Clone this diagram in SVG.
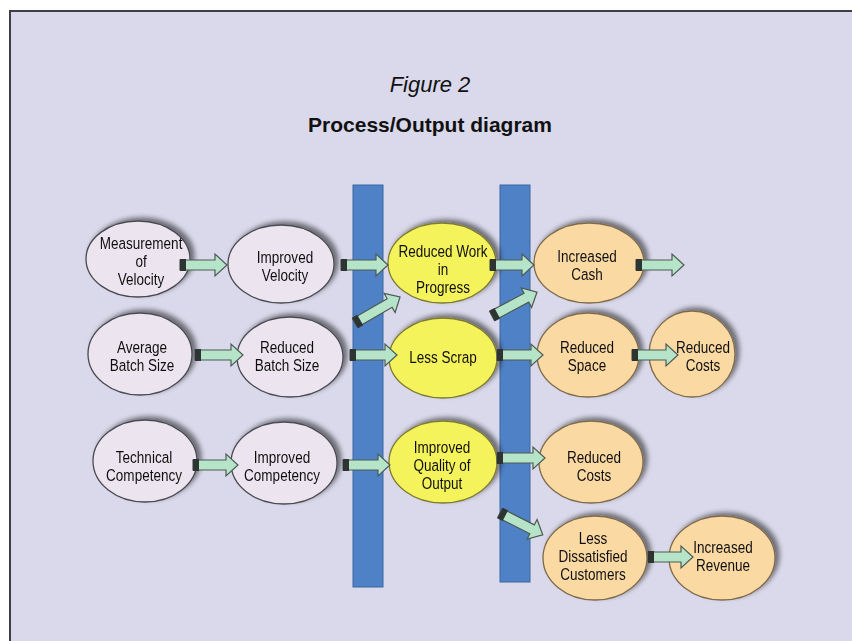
<svg xmlns="http://www.w3.org/2000/svg" width="852" height="641" viewBox="0 0 852 641">
<style>
.t{font-family:"Liberation Sans",Arial,sans-serif;font-size:16.5px;fill:#111;text-anchor:middle;transform-box:fill-box;transform-origin:center;transform:scaleX(0.82)}
.g{fill:#ece4ef;stroke:#4a4a52;stroke-width:1.3}
.y{fill:#f5f35c;stroke:#7d7a30;stroke-width:1.3}
.o{fill:#fad9a3;stroke:#7e6a4c;stroke-width:1.3}
.bar{fill:#4f81c6;stroke:#3d679f;stroke-width:1}
.ar{fill:#b6e4c9;stroke:#4d5a55;stroke-width:1.2}
.cap{fill:#2e3432}
</style>
<defs>
<filter id="sh" x="-20%" y="-25%" width="140%" height="150%">
<feGaussianBlur in="SourceAlpha" stdDeviation="2.5" result="b"/>
<feOffset in="b" dx="4" dy="-3" result="o"/>
<feComponentTransfer in="o" result="s"><feFuncA type="linear" slope="0.5"/></feComponentTransfer>
<feMerge><feMergeNode in="s"/><feMergeNode in="SourceGraphic"/></feMerge>
</filter>
</defs>
<rect x="0" y="0" width="852" height="641" fill="#ffffff"/>
<rect x="10" y="11" width="860" height="660" fill="#d9d9eb" stroke="#3e3e46" stroke-width="2"/>
<text x="430" y="92" font-family="Liberation Sans, Arial, sans-serif" font-size="22" font-style="italic" text-anchor="middle" fill="#111">Figure 2</text>
<text x="430" y="132" font-family="Liberation Sans, Arial, sans-serif" font-size="21" font-weight="bold" text-anchor="middle" fill="#111">Process/Output diagram</text>
<g id="bars">
<rect class="bar" x="353" y="185" width="30" height="402"/>
<rect class="bar" x="500" y="185" width="30" height="397"/>
</g>
<g id="n-measurement" filter="url(#sh)"><ellipse class="g" cx="138" cy="259" rx="52" ry="38"/><text class="t" x="141" y="249">Measurement</text><text class="t" x="141" y="267">of</text><text class="t" x="141" y="285">Velocity</text></g>
<g id="n-improved-velocity" filter="url(#sh)"><ellipse class="g" cx="281" cy="264" rx="53" ry="39"/><text class="t" x="285" y="263">Improved</text><text class="t" x="285" y="281">Velocity</text></g>
<g id="n-average-batch" filter="url(#sh)"><ellipse class="g" cx="140" cy="354" rx="52" ry="41"/><text class="t" x="142" y="353">Average</text><text class="t" x="142" y="371">Batch Size</text></g>
<g id="n-reduced-batch" filter="url(#sh)"><ellipse class="g" cx="290" cy="357" rx="53" ry="40"/><text class="t" x="287" y="353">Reduced</text><text class="t" x="287" y="371">Batch Size</text></g>
<g id="n-technical" filter="url(#sh)"><ellipse class="g" cx="145" cy="461" rx="52" ry="41"/><text class="t" x="144" y="463">Technical</text><text class="t" x="144" y="481">Competency</text></g>
<g id="n-improved-competency" filter="url(#sh)"><ellipse class="g" cx="284" cy="463" rx="53" ry="41"/><text class="t" x="282" y="463">Improved</text><text class="t" x="282" y="481">Competency</text></g>
<g id="n-wip" filter="url(#sh)"><ellipse class="y" cx="442" cy="263" rx="54" ry="40"/><text class="t" x="443" y="257">Reduced Work</text><text class="t" x="443" y="275">in</text><text class="t" x="443" y="293">Progress</text></g>
<g id="n-less-scrap" filter="url(#sh)"><ellipse class="y" cx="443" cy="358" rx="54" ry="40"/><text class="t" x="443" y="363">Less Scrap</text></g>
<g id="n-quality" filter="url(#sh)"><ellipse class="y" cx="443" cy="462" rx="54" ry="41"/><text class="t" x="442" y="453">Improved</text><text class="t" x="442" y="471">Quality of</text><text class="t" x="442" y="489">Output</text></g>
<g id="n-cash" filter="url(#sh)"><ellipse class="o" cx="589" cy="263" rx="55" ry="40"/><text class="t" x="587" y="262">Increased</text><text class="t" x="587" y="280">Cash</text></g>
<g id="n-space" filter="url(#sh)"><ellipse class="o" cx="588" cy="355" rx="51" ry="42"/><text class="t" x="587" y="353">Reduced</text><text class="t" x="587" y="371">Space</text></g>
<g id="n-costs1" filter="url(#sh)"><ellipse class="o" cx="692" cy="354" rx="43" ry="43"/><text class="t" x="703" y="353">Reduced</text><text class="t" x="703" y="371">Costs</text></g>
<g id="n-costs2" filter="url(#sh)"><ellipse class="o" cx="591" cy="462" rx="52" ry="41"/><text class="t" x="594" y="463">Reduced</text><text class="t" x="594" y="481">Costs</text></g>
<g id="n-dissatisfied" filter="url(#sh)"><ellipse class="o" cx="595" cy="558" rx="52" ry="42"/><text class="t" x="593" y="544">Less</text><text class="t" x="593" y="562">Dissatisfied</text><text class="t" x="593" y="580">Customers</text></g>
<g id="n-revenue" filter="url(#sh)"><ellipse class="o" cx="722" cy="558" rx="53" ry="42"/><text class="t" x="723" y="553">Increased</text><text class="t" x="723" y="571">Revenue</text></g>
<g id="connectors">
<g transform="translate(180,265)"><path class="ar" d="M0,-5 H35 V-11 L47,0 L35,11 V5 H0 Z"/><rect class="cap" x="0" y="-6" width="6" height="12"/></g>
<g transform="translate(341,265)"><path class="ar" d="M0,-5 H35 V-11 L47,0 L35,11 V5 H0 Z"/><rect class="cap" x="0" y="-6" width="6" height="12"/></g>
<g transform="translate(355,323) rotate(-30)"><path class="ar" d="M0,-5 H40 V-11 L52,0 L40,11 V5 H0 Z"/><rect class="cap" x="0" y="-6" width="6" height="12"/></g>
<g transform="translate(490,265)"><path class="ar" d="M0,-5 H32 V-11 L44,0 L32,11 V5 H0 Z"/><rect class="cap" x="0" y="-6" width="6" height="12"/></g>
<g transform="translate(492,316) rotate(-28)"><path class="ar" d="M0,-5 H39 V-11 L51,0 L39,11 V5 H0 Z"/><rect class="cap" x="0" y="-6" width="6" height="12"/></g>
<g transform="translate(636,265)"><path class="ar" d="M0,-5 H36 V-11 L48,0 L36,11 V5 H0 Z"/><rect class="cap" x="0" y="-6" width="6" height="12"/></g>
<g transform="translate(195,355)"><path class="ar" d="M0,-5 H36 V-11 L48,0 L36,11 V5 H0 Z"/><rect class="cap" x="0" y="-6" width="6" height="12"/></g>
<g transform="translate(350,355)"><path class="ar" d="M0,-5 H35 V-11 L47,0 L35,11 V5 H0 Z"/><rect class="cap" x="0" y="-6" width="6" height="12"/></g>
<g transform="translate(497,355)"><path class="ar" d="M0,-5 H34 V-11 L46,0 L34,11 V5 H0 Z"/><rect class="cap" x="0" y="-6" width="6" height="12"/></g>
<g transform="translate(632,355)"><path class="ar" d="M0,-5 H34 V-11 L46,0 L34,11 V5 H0 Z"/><rect class="cap" x="0" y="-6" width="6" height="12"/></g>
<g transform="translate(193,465)"><path class="ar" d="M0,-5 H33 V-11 L45,0 L33,11 V5 H0 Z"/><rect class="cap" x="0" y="-6" width="6" height="12"/></g>
<g transform="translate(343,465)"><path class="ar" d="M0,-5 H35 V-11 L47,0 L35,11 V5 H0 Z"/><rect class="cap" x="0" y="-6" width="6" height="12"/></g>
<g transform="translate(497,458)"><path class="ar" d="M0,-5 H36 V-11 L48,0 L36,11 V5 H0 Z"/><rect class="cap" x="0" y="-6" width="6" height="12"/></g>
<g transform="translate(500,513) rotate(27)"><path class="ar" d="M0,-5 H36 V-11 L48,0 L36,11 V5 H0 Z"/><rect class="cap" x="0" y="-6" width="6" height="12"/></g>
<g transform="translate(648,557)"><path class="ar" d="M0,-5 H33 V-11 L45,0 L33,11 V5 H0 Z"/><rect class="cap" x="0" y="-6" width="6" height="12"/></g>
</g>
</svg>
